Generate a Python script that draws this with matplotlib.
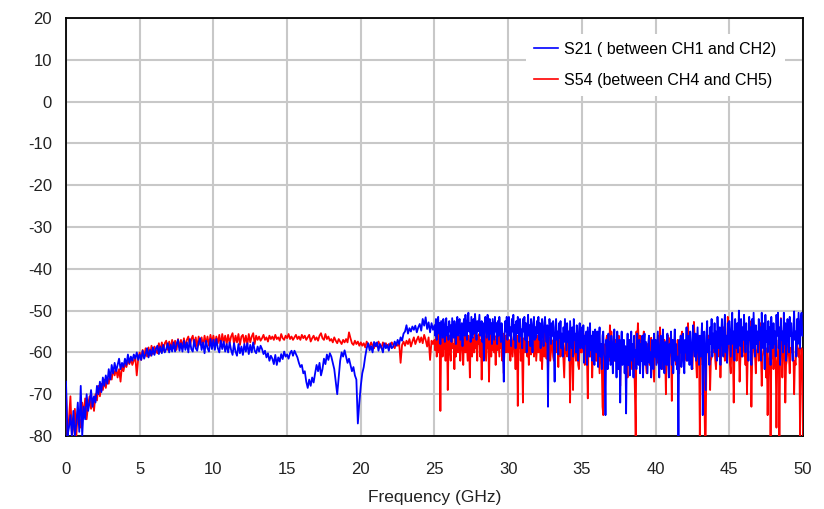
import numpy as np
import matplotlib
matplotlib.use("Agg")
import matplotlib.pyplot as plt

# 0 - 24.9 GHz, 0.1 GHz steps
s21_lo = [
    -67, -80, -78, -75, -80, -74, -80, -77, -72, -79,
    -68, -80, -73, -76, -70, -74, -72, -69, -73, -70.5,
    -72, -68, -70, -67, -69.5, -66, -68, -65.5, -67.5, -64,
    -66.5, -63, -65, -62.5, -64.5, -63, -61.5, -64, -62.5, -63.5,
    -61.5, -63, -60.5, -62.5, -61, -62, -60.5, -61.5, -60, -61.8,
    -60.5, -61.8, -59.6, -61.5, -60.4, -59, -61.2, -59.4, -60.8, -58.8,
    -60.6, -59.2, -58.4, -60.4, -58.6, -60.2, -58.2, -60, -59.2, -57.8,
    -60, -58.2, -59.8, -57.6, -59.8, -58, -57, -59.6, -57.8, -59.8,
    -57.2, -59.4, -57.6, -60, -56.8, -59.2, -59.8, -57, -59, -59.6,
    -57.6, -56.6, -59.4, -57.6, -60.2, -57.2, -59, -59.8, -56.8, -59.2,
    -57, -59.4, -56.8, -59, -60, -57.2, -59.2, -57.4, -59.8, -58,
    -60, -57.6, -59.4, -60.6, -57.8, -59.8, -60.8, -58, -60.2, -58.6,
    -60.6, -58, -59.8, -57.8, -60.4, -58.2, -60, -57.6, -59.6, -60.2,
    -58.6, -59.8, -58.4, -59.2, -60.4, -59.6, -61.2, -60.2, -62, -60.8,
    -61.5, -62.8, -60.6, -63, -61.2, -62.2, -60.4, -61.6, -59.8, -61,
    -60.5, -61.5, -60.2, -59.6, -60.8, -59.6, -60.4, -61.2, -62.5, -63.5,
    -63, -65, -64.5, -67, -68.5, -66.5, -68, -66, -67.2, -65,
    -63, -64.5, -62.5, -65.5, -64, -61.5, -62.8, -60.5, -61.8, -60.2,
    -61, -62.5, -64, -67, -70, -66, -62, -60, -61, -59.5,
    -61, -62.5, -61.5, -63, -64.5, -63.5, -65.5, -66.5, -77, -72,
    -68, -65, -63.5, -61, -59, -57.8, -59.5, -58.5, -60, -57.5,
    -58.5, -57.6, -59.6, -58, -58.8, -60, -57.8, -59, -58.2, -59.6,
    -57.8, -59, -58.6, -57.4, -58.4, -57, -58, -56.4, -57.2, -55.5,
    -55, -53.5, -55.5, -54.2, -55, -53.8, -54.6, -53.6, -55.2, -54,
    -53.2, -54.8, -52, -53.6, -51.6, -54.4, -52.8, -55.2, -53, -54.6,
]
s54_lo = [
    -69, -80, -76, -70.5, -80, -78, -73.5, -80, -74, -76,
    -78, -72, -75, -71, -76, -72.5, -70.5, -73.5, -71, -74,
    -70, -71.5, -68, -70.5, -67.5, -69, -66.5, -68.5, -66, -67.5,
    -65, -66.5, -64, -65.5, -63.8, -66, -64, -67, -63, -64.5,
    -62.5, -63.5, -61.8, -62.8, -61.5, -63, -62, -61, -65.5, -61.5,
    -60, -61.8, -59.4, -61.2, -59, -61, -58.8, -60.8, -58.4, -60.4,
    -58.6, -59.4, -60.2, -57.8, -59.8, -57.6, -59.6, -57.8, -57.2, -59.4,
    -57.4, -59.2, -57, -59, -57.2, -59.4, -56.8, -58.8, -57, -59,
    -56.6, -58.8, -57, -56.2, -58.6, -56.8, -56, -58.4, -56.4, -58.8,
    -56.2, -58.2, -56.4, -58.6, -56, -58, -56.2, -58.4, -55.8, -57.8,
    -56, -58.2, -56.2, -57.8, -55.8, -58.4, -55.6, -57.6, -56, -58,
    -55.8, -57.8, -56.2, -55.4, -58, -56, -57.6, -55.6, -58.2, -56.2,
    -55.8, -57.8, -56, -58.2, -55.6, -57.6, -56.2, -55.4, -58, -56,
    -57, -56.2, -57.2, -56.6, -55.8, -57, -56.4, -57.4, -56, -56.8,
    -56.2, -57, -55.8, -56.8, -56.4, -57.2, -55.6, -56.6, -57, -56,
    -56.6, -55.6, -56.8, -56.2, -57, -56.4, -55.8, -56.8, -56.2, -57,
    -55.8, -56.6, -56, -57, -56.4, -55.8, -57.4, -56.6, -56, -57,
    -56.4, -57.2, -56, -55.4, -56.6, -57, -55.6, -56.8, -56.2, -57.2,
    -56.8, -57.6, -56.4, -57.2, -57.8, -56.8, -57.4, -58, -57, -57.6,
    -56.8, -57.6, -55.2, -56.6, -57.8, -58.2, -57.2, -58, -57.4, -58.4,
    -57.6, -58.4, -57.8, -58.8, -57.4, -58.2, -58.6, -57.6, -58.4, -59,
    -57.8, -58.6, -57.4, -58.2, -59, -57.6, -58.4, -57.8, -58.8, -58,
    -58.6, -57.6, -58.2, -59, -57.8, -58.4, -57.6, -62.5, -58.2, -57.4,
    -58.4, -57.2, -58, -56.8, -58.6, -57.4, -56.4, -58, -57, -56.2,
    -57.6, -56.4, -57.8, -55.8, -57, -58.6, -56.4, -61.8, -57.2, -58,
]

# 25 - 50 GHz, 0.05 GHz steps
s21_hi = [
    -53.5, -56, -52, -57, -54, -51.5, -55.5, -53, -58, -52.5, -54.5, -56.5, -52, -55, -57.5, -53, -51.8, -56, -54, -57,
    -52.5, -55, -53.5, -57.5, -51.8, -54, -56.5, -52.5, -55.5, -58, -53, -51.5, -56, -54.5, -52, -57, -55, -53, -58.5, -54,
    -52, -56, -51, -54.5, -57, -52.5, -50.5, -55, -53, -57.5, -51.5, -54, -56.5, -52, -55.5, -50.8, -53.5, -57, -52.5, -55,
    -53, -51, -56, -54, -52.5, -57.5, -53, -62, -55, -51.5, -54, -56.5, -51, -53.5, -57, -52, -55.5, -53, -58, -52,
    -54.5, -57, -51.5, -55, -53, -58, -52.5, -56, -51.5, -54, -57.5, -53, -55.5, -60, -67, -56, -52.5, -55, -51.5, -57,
    -53, -51.5, -56, -54, -58.5, -52, -55, -51, -57, -53.5, -59, -52.5, -55.5, -51.5, -54, -57.5, -52, -56, -54.5, -59,
    -52, -55, -51.5, -57, -53, -60, -54.5, -51, -56, -53.5, -58.5, -52, -55, -60, -53, -51.5, -57, -54, -56.5, -52.5,
    -55.5, -51.5, -57, -53, -59, -54.5, -52, -56, -58.5, -53, -51.5, -55, -57.5, -53.5, -73, -56, -52, -54.5, -58, -53,
    -56, -52.5, -58.5, -67, -54, -52, -57, -55, -60.5, -53, -56.5, -52.5, -59, -55.5, -61, -54, -57.5, -52, -56, -59.5,
    -53, -57.5, -55, -62, -52.5, -56, -59, -54, -61, -52, -57, -55.5, -60, -53.5, -58.5, -62, -55, -53, -59, -56.5,
    -54, -59, -53.5, -62.5, -56, -58, -55, -63, -54, -57.5, -61, -53, -59.5, -56, -62, -55, -58, -63, -54.5, -57,
    -60, -55, -63.5, -57, -54, -61, -58, -64, -56, -55, -60.5, -62, -75, -57, -59, -64, -55.5, -61, -57.5, -63,
    -56, -60, -65, -57.5, -54.5, -62, -58, -66, -55, -61, -64, -57, -72, -59, -55, -63, -60.5, -57, -65, -58.5,
    -74.6, -60, -55.5, -63, -57, -65.5, -59, -55, -62, -58, -66, -56, -61, -59.5, -64, -55.5, -60, -63, -57, -65,
    -58, -62, -56, -66, -59, -55.5, -63, -57.5, -61, -65, -58, -56, -62.5, -60, -66, -57, -59, -64, -55.5, -61,
    -57, -63, -59, -55, -62, -66, -58, -56, -64, -60, -54.5, -61, -65, -57.5, -59, -63, -55.5, -62, -66, -58,
    -60, -55, -63, -57, -65, -59, -54.5, -62, -58, -64, -61, -80, -57, -60, -56, -63.5, -59, -55.5, -62, -65,
    -57, -60, -54, -62, -58, -56, -63, -55, -60.5, -64, -57, -53.5, -59, -61, -55.5, -62, -58, -54, -60, -63,
    -56, -61, -57, -53, -75, -58, -55, -62, -69, -56, -52.5, -60, -57, -63, -54, -58, -52, -61, -55.5, -59,
    -53, -60, -55, -62, -51.5, -57, -59, -54, -63, -56, -52, -58, -61, -54.5, -51, -60, -56, -62.5, -53, -58,
    -52.5, -57, -61, -54, -50.5, -58, -55, -62, -52, -56.5, -59, -53, -60, -50, -55, -58.5, -52, -61, -54, -57,
    -51, -56, -60, -53, -58, -55, -62, -51.5, -57, -54, -63, -52, -59, -50.5, -56, -61, -53.5, -58, -55, -60,
    -52, -57, -54, -62, -50.5, -56, -59, -53, -64, -51, -57.5, -55, -60, -52.5, -58, -54, -63, -51.5, -56, -59,
    -53, -58, -55, -61, -51, -56, -50.5, -59, -54, -63, -52, -57, -55, -60, -50.5, -58, -53, -62, -56, -52,
    -57, -60, -51.5, -56, -53, -59, -62, -54, -50.2, -57, -55, -61, -52, -58, -50.5, -55, -59, -52, -50.5, -56,
    -56,
]
s54_hi = [
    -57, -59.5, -56, -61, -58, -55.5, -60, -57, -74, -58, -56.5, -61, -59, -55.5, -58, -62, -57, -56, -69, -59,
    -56, -60, -62, -57.5, -55, -59, -58, -64, -56.5, -61, -57, -55, -60, -58.5, -56, -62, -59, -55.5, -58, -63,
    -57, -55, -60, -54.5, -58, -62, -56, -59, -66, -57.5, -55, -61, -58, -56.5, -60, -54, -59, -57, -62, -56,
    -58, -55.5, -61, -57, -66.5, -59, -56, -60, -54.5, -58.5, -62, -56, -59, -57, -67, -58, -55.5, -61, -57, -59.5,
    -55, -60, -57, -63, -56, -59.5, -54.5, -58, -61, -56, -59, -57.5, -62, -55.5, -65, -58, -56, -60, -57, -55.5,
    -60, -57, -59, -62, -56, -58.5, -61, -57, -55.5, -60, -64, -58, -56, -72.8, -57.5, -59, -55.5, -62, -58, -61,
    -72, -57, -56.5, -60, -59, -55, -61, -57.5, -63, -56, -58, -60.5, -55.5, -59, -54.5, -61, -58, -56, -62, -59,
    -56, -60, -59, -57, -62, -55.5, -64, -58, -57, -61, -55, -59, -61.5, -57, -65, -58, -56.5, -62, -60, -57,
    -57.5, -61, -62, -56, -55.5, -60, -59, -57, -63.5, -58, -56, -61, -60, -57, -58, -62, -66, -59, -57, -60,
    -61, -56, -55, -59, -72, -57, -58, -62, -69, -56, -56.5, -60, -62, -57.5, -59, -63, -64, -58, -57, -60,
    -60, -57, -55.5, -61, -63, -58, -58, -62, -71, -57, -57, -60, -61, -58, -66, -60, -56, -59, -59.5, -62,
    -62, -58, -57, -61, -65, -59, -60, -63, -73, -75, -58, -61, -63, -57, -56, -60, -59, -62, -53.5, -58,
    -55, -59, -59.5, -62, -62, -57, -57, -60, -64, -58, -56, -61, -68, -59, -60, -57, -58, -62, -63, -60,
    -59, -63, -66, -58, -61, -57, -57.5, -61, -64, -59, -58, -62, -70, -80, -55, -58, -53, -57, -60, -56,
    -57, -60, -62, -57, -55, -59, -60, -63, -65, -58, -58, -61, -63, -59, -56.5, -60, -61, -64, -67, -59,
    -58, -61, -62.5, -57, -56, -60, -54, -58, -60, -62, -64, -59, -57, -61, -70, -60, -59, -56, -62, -60,
    -56.5, -59, -71.6, -60, -60, -57, -58, -62, -63, -59, -57, -61, -65, -60, -59, -56, -55, -58, -61, -59,
    -58, -61, -62, -57, -53, -58, -57, -60, -60.5, -63, -64, -58, -52.7, -57, -59, -62, -66, -60, -56, -59,
    -80, -62, -60, -57, -63, -60, -69, -80, -80, -61, -58, -56, -56, -60, -69, -62, -61, -58, -57, -60,
    -59, -62, -64, -59, -56, -60, -61, -58, -66, -60, -58, -56, -54, -59, -62, -58, -57, -60, -51.5, -57,
    -60, -63, -65, -58, -57, -61, -72, -60, -59, -57, -62, -59, -55, -58, -67, -62, -58, -60, -61, -58,
    -56, -60, -63, -58, -70, -61, -58, -56, -52.5, -58, -73, -62, -60, -57, -57, -61, -65, -60, -59, -56,
    -62, -57, -53, -60, -68, -61, -60, -58, -57, -62, -66, -59, -75, -63, -61, -58, -80, -62, -59, -57,
    -64, -60, -57, -62, -78, -63, -61, -57, -80, -60, -51.8, -57, -66, -61, -59, -56, -72, -63, -62, -58,
    -58, -61, -65, -59, -60, -57, -56, -60, -70, -62, -63, -58, -57, -60, -61, -59, -80, -63, -59, -61,
    -80,
]

s21 = np.array(s21_lo + s21_hi)
s54 = np.array(s54_lo + s54_hi)
f21 = np.concatenate([np.linspace(0, 24.9, len(s21_lo)), np.linspace(25, 50, len(s21_hi))])
f54 = np.concatenate([np.linspace(0, 24.9, len(s54_lo)), np.linspace(25, 50, len(s54_hi))])

x_ticks = list(range(0, 51, 5))
y_ticks = list(range(-80, 21, 10))

plt.rcParams['font.family'] = ['Liberation Sans', 'DejaVu Sans']
plt.rcParams['axes.unicode_minus'] = False

fig = plt.figure(figsize=(8.24, 5.09), dpi=100)
ax = fig.add_axes([0.0801, 0.1434, 0.8944, 0.8212])

ax.plot(f54, s54, color="#ff0000", lw=1.3, label="S54 (between CH4 and CH5)", zorder=3)
ax.plot(f21, s21, color="#0000ff", lw=1.3, label="S21 ( between CH1 and CH2)", zorder=4)

ax.set_xlim(0, 50)
ax.set_ylim(-80, 20)
ax.set_xticks(x_ticks)
ax.set_yticks(y_ticks)
ax.grid(True, color="#c8c8c8", lw=1.5)
ax.set_axisbelow(True)
ax.tick_params(length=0, labelsize=12, colors="#222222")
ax.tick_params(axis="y", pad=10)
ax.tick_params(axis="x", pad=19)
for sp in ax.spines.values():
    sp.set_linewidth(1.3)
    sp.set_color("black")

ax.set_xlabel("Frequency (GHz)", fontsize=12.5, color="#222222", labelpad=9)

# legend: S21 on top
h, l = ax.get_legend_handles_labels()
leg = ax.legend(h[::-1], l[::-1], loc="upper right", bbox_to_anchor=(0.975, 0.962),
                borderaxespad=0, borderpad=0.5, frameon=True, fancybox=False,
                edgecolor="none", facecolor="white", framealpha=1,
                fontsize=11.5, handlelength=1.5, handletextpad=0.4, labelspacing=1.0)
for line in leg.get_lines():
    line.set_linewidth(1.2)
leg.set_zorder(5)

fig.savefig("out.png", dpi=100)
